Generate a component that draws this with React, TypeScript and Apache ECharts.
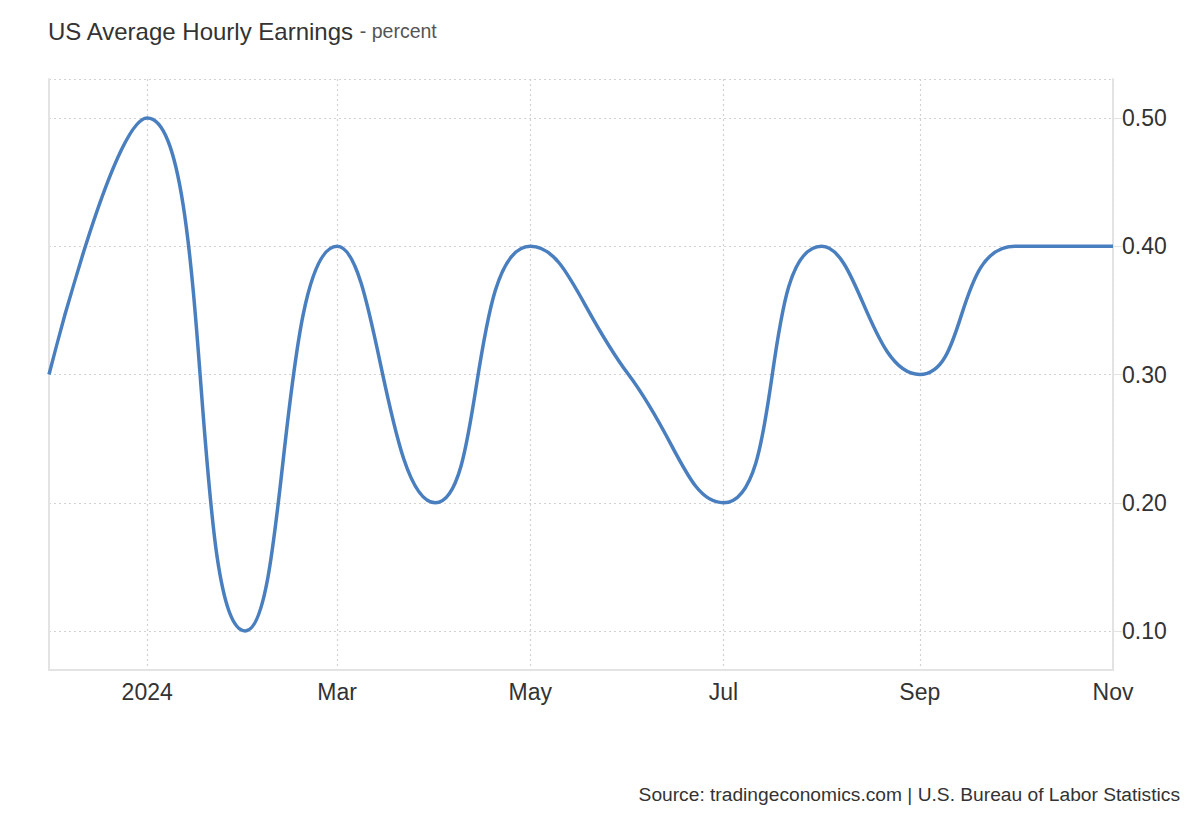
import React, { useEffect, useRef } from "react";
import * as echarts from "echarts";

const months: string[] = [
  "2023-12", "2024-01", "2024-02", "2024-03", "2024-04", "2024-05",
  "2024-06", "2024-07", "2024-08", "2024-09", "2024-10", "2024-11",
];
const values: number[] = [0.3, 0.5, 0.1, 0.4, 0.2, 0.4, 0.3, 0.2, 0.4, 0.3, 0.4, 0.4];
const xLabelMonths: string[] = ["2024-01", "2024-03", "2024-05", "2024-07", "2024-09", "2024-11"];
const monthNames: string[] = ["Jan", "Feb", "Mar", "Apr", "May", "Jun", "Jul", "Aug", "Sep", "Oct", "Nov", "Dec"];

const titleText = "US Average Hourly Earnings";
const subtitleText = " - percent";
const sourceText = "Source: tradingeconomics.com | U.S. Bureau of Labor Statistics";

const FONT = 'Arial, "Liberation Sans", sans-serif';

function ts(m: string): number {
  const [y, mo] = m.split("-").map(Number);
  return new Date(y, mo - 1, 1).getTime();
}

export default function App() {
  const ref = useRef<HTMLDivElement>(null);
  useEffect(() => {
    if (!ref.current) return;
    const chart = echarts.init(ref.current, undefined, { renderer: "svg" });
    const yMin = 0.0696;
    const yMax = 0.5304;
    const gridLine = { show: true, lineStyle: { color: "#d2d2d2", type: [2, 3], width: 1.2 } };
    chart.setOption({
      animation: false,
      backgroundColor: "#ffffff",
      textStyle: { fontFamily: FONT },
      title: [
        {
          text: `{a|${titleText}}{b|${subtitleText}}`,
          left: 48,
          top: 19,
          padding: 0,
          textStyle: {
            fontWeight: "normal",
            rich: {
              a: { fontSize: 24, color: "#333333", fontFamily: FONT, fontWeight: "normal" },
              b: { fontSize: 19.5, color: "#555555", fontFamily: FONT, fontWeight: "normal" },
            },
          },
        },
        {
          text: sourceText,
          right: 20,
          top: 785,
          padding: 0,
          textStyle: { fontSize: 19.2, color: "#333333", fontWeight: "normal", fontFamily: FONT },
        },
      ],
      grid: { left: 49, right: 87, top: 79, bottom: 150 },
      xAxis: {
        type: "value",
        min: ts(months[0]),
        max: ts(months[months.length - 1]),
        axisLine: { show: true, lineStyle: { color: "#e3e3e3", width: 2 } },
        axisTick: { show: false, customValues: xLabelMonths.map(ts) },
        axisLabel: {
          customValues: xLabelMonths.map(ts),
          fontSize: 23,
          color: "#333333",
          margin: 10,
          formatter: (v: number) => {
            const d = new Date(v);
            return d.getMonth() === 0 ? String(d.getFullYear()) : monthNames[d.getMonth()];
          },
        },
        splitLine: gridLine,
      },
      yAxis: [
        {
          type: "value",
          position: "right",
          min: yMin,
          max: yMax,
          splitNumber: 5,
          axisLine: { show: true, lineStyle: { color: "#e3e3e3", width: 2 } },
          axisTick: { show: true, length: 9, lineStyle: { color: "#e3e3e3" } },
          axisLabel: {
            fontSize: 23,
            color: "#333333",
            margin: 9,
            showMinLabel: false,
            showMaxLabel: false,
            formatter: (v: number) =>
              Math.abs(v * 10 - Math.round(v * 10)) < 1e-6 ? v.toFixed(2) : "",
          },
          splitLine: gridLine,
        },
        {
          type: "value",
          position: "left",
          min: yMin,
          max: yMax,
          axisLine: { show: true, lineStyle: { color: "#e3e3e3", width: 2 } },
          axisTick: { show: false },
          axisLabel: { show: false },
          splitLine: { show: false },
        },
      ],
      series: [
        {
          type: "line",
          yAxisIndex: 0,
          data: months.map((m, i) => [ts(m), values[i]]),
          smooth: 0.5,
          showSymbol: false,
          lineStyle: { color: "#4a7fbf", width: 3.5 },
          itemStyle: { color: "#4a7fbf" },
        },
      ],
    });
    return () => chart.dispose();
  }, []);
  return (
    <div
      ref={ref}
      style={{ position: "fixed", left: 0, top: 0, width: 1200, height: 820, background: "#fff" }}
    />
  );
}
